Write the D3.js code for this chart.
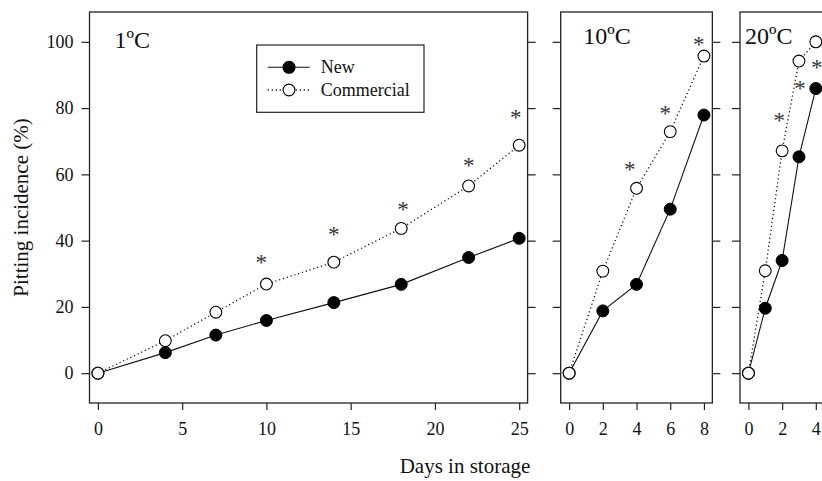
<!DOCTYPE html>
<html>
<head>
<meta charset="utf-8">
<script src="https://cdn.jsdelivr.net/npm/d3@7"></script>
<style>
  body { margin: 0; background: #fff; }
  svg text { font-family: "Liberation Serif", "Times New Roman", serif; fill: #111; }
</style>
</head>
<body>
<svg id="chart"></svg>
<script>
// values
var days1 = [0, 4, 7, 10, 14, 18, 22, 25];
var new1 = [0, 6.2, 11.5, 15.9, 21.3, 26.8, 34.9, 40.7];
var comm1 = [0, 9.8, 18.4, 26.9, 33.5, 43.7, 56.5, 68.8];

var days10 = [0, 2, 4, 6, 8];
var new10 = [0, 18.8, 26.8, 49.5, 77.9];
var comm10 = [0, 30.8, 55.8, 72.9, 95.7];

var days20 = [0, 1, 2, 3, 4];
var new20 = [0, 19.6, 34.0, 65.3, 85.9];
var comm20 = [0, 30.9, 67.1, 94.2, 100];

// significance marks (day, height in %)
var star1Days = [9.7, 14, 18.1, 22, 24.8];
var star1Vals = [34.2, 42.5, 50.2, 63.3, 77.9];
var star10Days = [3.6, 5.7, 7.7];
var star10Vals = [62.3, 79.1, 100];
var star20Days = [1.83, 3.06, 4.05];
var star20Vals = [76.9, 86.6, 93];

var yTicks = [0, 20, 40, 60, 80, 100];
var xTicks1 = [0, 5, 10, 15, 20, 25];
var xTicks10 = [0, 2, 4, 6, 8];
var xTicks20 = [0, 2, 4];

var width = 822,
    height = 481,
    plotTop = 12,
    plotBottom = 403,
    unit = 16.85;

var svg = d3.select("#chart")
    .attr("width", width)
    .attr("height", height);

var y = d3.scaleLinear()
    .domain([-9, 109])
    .range([plotBottom, plotTop]);

let zip = (xs, ys) => xs.map((d, i) => ({day: d, value: ys[i]}));

let drawPanel = (p) => {
    let x = d3.scaleLinear()
        .domain(p.domain)
        .range([p.left, p.left + (p.domain[1] - p.domain[0]) * unit]);
    let g = svg.append("g");

    // ticks (no domain line, the frame is drawn below)
    let xAxis = g.append("g")
        .attr("transform", `translate(0, ${plotBottom})`)
        .call(d3.axisBottom(x).tickValues(p.xticks).tickSize(7).tickPadding(12).tickFormat(d3.format("d")));
    let yAxisL = g.append("g")
        .attr("transform", `translate(${p.left}, 0)`)
        .call(d3.axisLeft(y).tickValues(yTicks).tickSize(8).tickPadding(8));
    let yAxisR = g.append("g")
        .attr("transform", `translate(${x.range()[1]}, 0)`)
        .call(d3.axisRight(y).tickValues(yTicks).tickSize(8));
    yAxisR.selectAll("text").remove();
    if (!p.ylabels) yAxisL.selectAll("text").remove();
    [xAxis, yAxisL, yAxisR].forEach(a => {
        a.select(".domain").remove();
        a.selectAll("line").attr("stroke", "#222").attr("stroke-width", 1.2);
        a.selectAll("text").style("font-size", "18px").attr("fill", "#111");
    });

    g.append("rect")
        .attr("x", x.range()[0])
        .attr("y", plotTop)
        .attr("width", x.range()[1] - x.range()[0])
        .attr("height", plotBottom - plotTop)
        .attr("fill", "none")
        .attr("stroke", "#222")
        .attr("stroke-width", 1.3);

    let line = d3.line().x(d => x(d.day)).y(d => y(d.value));
    let newData = zip(p.days, p.newVals);
    let commData = zip(p.days, p.commVals);

    g.append("path")
        .datum(newData)
        .attr("d", line)
        .attr("fill", "none")
        .attr("stroke", "#111")
        .attr("stroke-width", 1.1);
    g.append("path")
        .datum(commData)
        .attr("d", line)
        .attr("fill", "none")
        .attr("stroke", "#111")
        .attr("stroke-width", 1.3)
        .attr("stroke-dasharray", "1.2,2.8");

    g.selectAll(".new")
        .data(newData)
        .join("circle")
        .attr("class", "new")
        .attr("cx", d => x(d.day))
        .attr("cy", d => y(d.value))
        .attr("r", 6)
        .attr("fill", "#000")
        .attr("stroke", "#000");
    g.selectAll(".comm")
        .data(commData)
        .join("circle")
        .attr("class", "comm")
        .attr("cx", d => x(d.day))
        .attr("cy", d => y(d.value))
        .attr("r", 5.9)
        .attr("fill", "#fff")
        .attr("stroke", "#000")
        .attr("stroke-width", 1.1);

    // asterisks
    g.selectAll(".star")
        .data(zip(p.starDays, p.starVals))
        .join("text")
        .attr("class", "star")
        .attr("x", d => x(d.day))
        .attr("y", d => y(d.value) + 10)
        .attr("text-anchor", "middle")
        .style("font-size", "23px")
        .style("fill", "#333")
        .text("*");

    g.append("text")
        .attr("x", p.left + p.labelDx)
        .attr("y", p.labelY)
        .style("font-size", "24px")
        .text(p.label);
};

drawPanel({domain: [-0.5, 25.5], left: 89.5, xticks: xTicks1, ylabels: true,
    days: days1, newVals: new1, commVals: comm1, starDays: star1Days, starVals: star1Vals,
    label: "1ºC", labelDx: 25, labelY: 48});
drawPanel({domain: [-0.5, 8.5], left: 560.7, xticks: xTicks10, ylabels: false,
    days: days10, newVals: new10, commVals: comm10, starDays: star10Days, starVals: star10Vals,
    label: "10ºC", labelDx: 22.5, labelY: 44});
drawPanel({domain: [-0.5, 5.5], left: 740, xticks: xTicks20, ylabels: false,
    days: days20, newVals: new20, commVals: comm20, starDays: star20Days, starVals: star20Vals,
    label: "20ºC", labelDx: 5, labelY: 44});

// Legend
var legend = svg.append("g").attr("transform", "translate(256.7, 45)");
legend.append("rect")
    .attr("width", 167.3)
    .attr("height", 67.3)
    .attr("fill", "#fff")
    .attr("stroke", "#222")
    .attr("stroke-width", 1.2);
var legendItems = [
    {name: "New", fill: "#000", dash: null, r: 6},
    {name: "Commercial", fill: "#fff", dash: "1.2,2.8", r: 5.9}
];
legendItems.forEach((item, i) => {
    let row = legend.append("g").attr("transform", `translate(0, ${22.3 + i * 22.7})`);
    row.append("line")
        .attr("x1", 11).attr("x2", 53)
        .attr("stroke", "#111")
        .attr("stroke-width", item.dash ? 1.3 : 1.1)
        .attr("stroke-dasharray", item.dash);
    row.append("circle")
        .attr("cx", 32.3)
        .attr("r", item.r)
        .attr("fill", item.fill)
        .attr("stroke", "#000")
        .attr("stroke-width", 1.1);
    row.append("text")
        .attr("x", 64)
        .attr("dy", "0.33em")
        .style("font-size", "18px")
        .text(item.name);
});

// Axis titles
svg.append("text")
    .attr("transform", `translate(28, ${(plotTop + plotBottom) / 2}) rotate(-90)`)
    .style("text-anchor", "middle")
    .style("font-size", "21px")
    .text("Pitting incidence (%)");

svg.append("text")
    .attr("transform", "translate(465, 473)")
    .style("text-anchor", "middle")
    .style("font-size", "21px")
    .text("Days in storage");
</script>
</body>
</html>
